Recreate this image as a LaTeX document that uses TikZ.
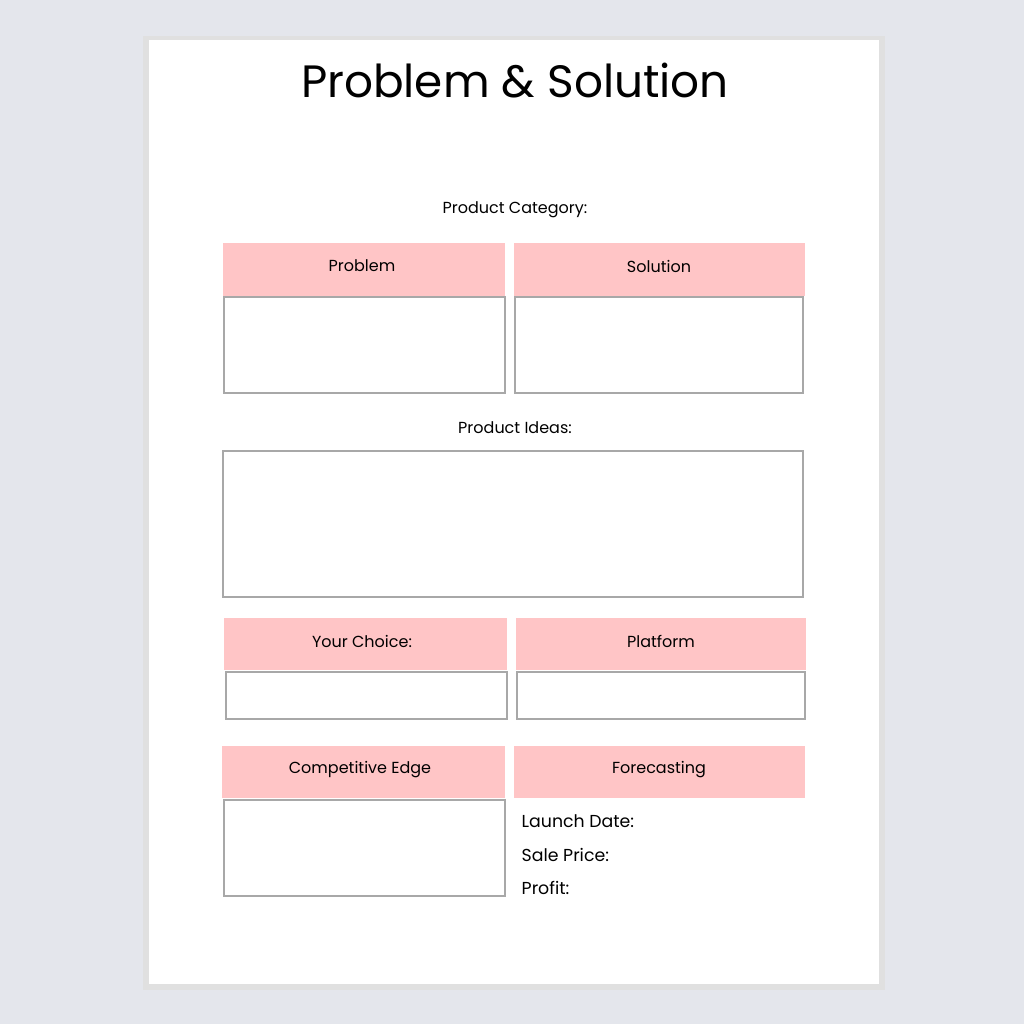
\documentclass[tikz,border=0pt]{standalone}
\usepackage{fontspec}
\setmainfont{Poppins}
\begin{document}
\begin{tikzpicture}[x=0.75pt,y=-0.75pt,
  hdr/.style={fill=pinkh,draw=none},
  cell/.style={draw=grayb,line width=1.4pt,fill=white},
  lbl/.style={font=\fontsize{12}{14}\selectfont,text=black},
  flbl/.style={font=\fontsize{13}{15}\selectfont,anchor=west,text=black}]
\definecolor{pinkh}{HTML}{FFC5C6}
\definecolor{grayb}{HTML}{A8A8A8}
\definecolor{bgc}{HTML}{E4E6EC}
\useasboundingbox (0,0) rectangle (1024,1024);
\fill[bgc] (0,0) rectangle (1024,1024);
\fill[black!12] (143,36) rectangle (885,990);
\fill[white] (149,40) rectangle (879,984);
\node (title) at (515,81) {\fontsize{34}{38}\selectfont Problem \& Solution};
\node[lbl] (cat) at (515,210) {Product Category:};
\fill[hdr] (223,243) rectangle (505,296); \node[lbl] (h1) at (362,266) {Problem};
\fill[hdr] (514,243) rectangle (805,296); \node[lbl] (h2) at (659,266) {Solution};
\draw[cell] (224,297) rectangle (505,393);
\draw[cell] (515,297) rectangle (803,393);
\node[lbl] (ideas) at (515,428) {Product Ideas:};
\draw[cell] (223,451) rectangle (803,597);
\fill[hdr] (224,618) rectangle (507,670); \node[lbl] (h3) at (362,641) {Your Choice:};
\fill[hdr] (516,618) rectangle (806,670); \node[lbl] (h4) at (661,641) {Platform};
\draw[cell] (226,672) rectangle (507,719);
\draw[cell] (517,672) rectangle (805,719);
\fill[hdr] (222,746) rectangle (505,798); \node[lbl] (h5) at (360,770) {Competitive Edge};
\fill[hdr] (514,746) rectangle (805,798); \node[lbl] (h6) at (659,770) {Forecasting};
\draw[cell] (224,800) rectangle (505,896);
\node[flbl] (ld) at (517,821) {Launch Date:};
\node[flbl] (sp) at (517,855) {Sale Price:};
\node[flbl] (pr) at (517,888) {Profit:};
\end{tikzpicture}
\end{document}
